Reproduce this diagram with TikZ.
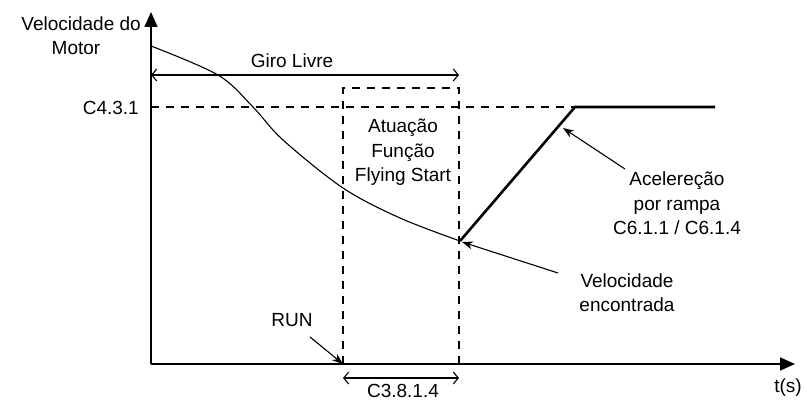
\documentclass[tikz,border=0pt]{standalone}
\usepackage{fontspec}
\setmainfont{Liberation Sans}
\usetikzlibrary{arrows.meta}
\begin{document}
\begin{tikzpicture}[x=1pt,y=-1pt,
  lbl/.style={font=\fontsize{19}{24.5}\selectfont, inner sep=0pt, align=center},
  axisline/.style={line width=1.6pt},
  dsh/.style={line width=1.5pt, dash pattern=on 8pt off 7pt},
  barbs/.style={line width=1.1pt, {Straight Barb[length=5pt,width=12pt]}-{Straight Barb[length=5pt,width=12pt]}},
  annot/.style={line width=1.1pt, -{Stealth[length=11pt,width=8pt]}},
  ramp/.style={line width=2.6pt},
]
\useasboundingbox (0,0) rectangle (807,403);
% axes
\coordinate (O) at (151,364);
\coordinate (ytop) at (151,12);
\coordinate (xend) at (795,364);
\draw[axisline,-{Triangle[length=15pt,width=13pt]}] (O) -- (ytop);
\draw[axisline,-{Triangle[length=15pt,width=13pt]}] (O) -- (xend);
% labels of axes
\node[lbl, anchor=base east] (ylab1) at (141,31) {Velocidade do};
\node[lbl, anchor=base] (ylab2) at (76,55) {Motor};
\node[lbl, anchor=base] (xlab) at (788,393) {t(s)};
% C4.3.1 level
\coordinate (refL) at (151,107);
\coordinate (refR) at (575,107);
\draw[dsh] (refL) -- (refR);
\node[lbl, anchor=base east] (reflab) at (139,115) {C4.3.1};
% Flying start window
\coordinate (runpt) at (343,364);
\coordinate (boxtop) at (459,88);
\draw[dsh] (runpt) rectangle (boxtop);
\node[lbl, anchor=base] (fs) at (403,182) {Atuação\\Função\\Flying Start};
% Giro livre
\coordinate (glL) at (151,75);
\coordinate (glR) at (459,75);
\draw[barbs] (glL) -- (glR);
\node[lbl, anchor=base] (gl) at (292,68) {Giro Livre};
% motor speed curve
\coordinate (found) at (460,241);
\draw[line width=1.1pt] plot[smooth, tension=0.55] coordinates {(151,46) (218,75) (253,107) (283,140) (343,188) (400,218) (460,241)};
% ramp
\coordinate (rampTop) at (575,107);
\coordinate (rampEnd) at (715,107);
\draw[ramp, line join=miter] (found) -- (rampTop) -- (rampEnd);
% acceleration annotation
\node[lbl, anchor=base] (acc) at (677,235) {Acelereção\\por rampa\\C6.1.1 / C6.1.4};
\coordinate (accFrom) at (625,169);
\coordinate (accTo) at (563,128);
\draw[annot] (accFrom) -- (accTo);
% velocidade encontrada
\node[lbl, anchor=base] (vel) at (627,312) {Velocidade\\encontrada};
\coordinate (velFrom) at (558,273);
\coordinate (velTo) at (462,242);
\draw[annot] (velFrom) -- (velTo);
% RUN
\node[lbl, anchor=base] (run) at (292,327) {RUN};
\coordinate (runFrom) at (310,337);
\draw[annot] (runFrom) -- (runpt);
% C3.8.1.4
\coordinate (dimL) at (343,378);
\coordinate (dimR) at (459,378);
\draw[barbs] (dimL) -- (dimR);
\node[lbl, anchor=base] (dim) at (403,398) {C3.8.1.4};
\end{tikzpicture}
\end{document}
